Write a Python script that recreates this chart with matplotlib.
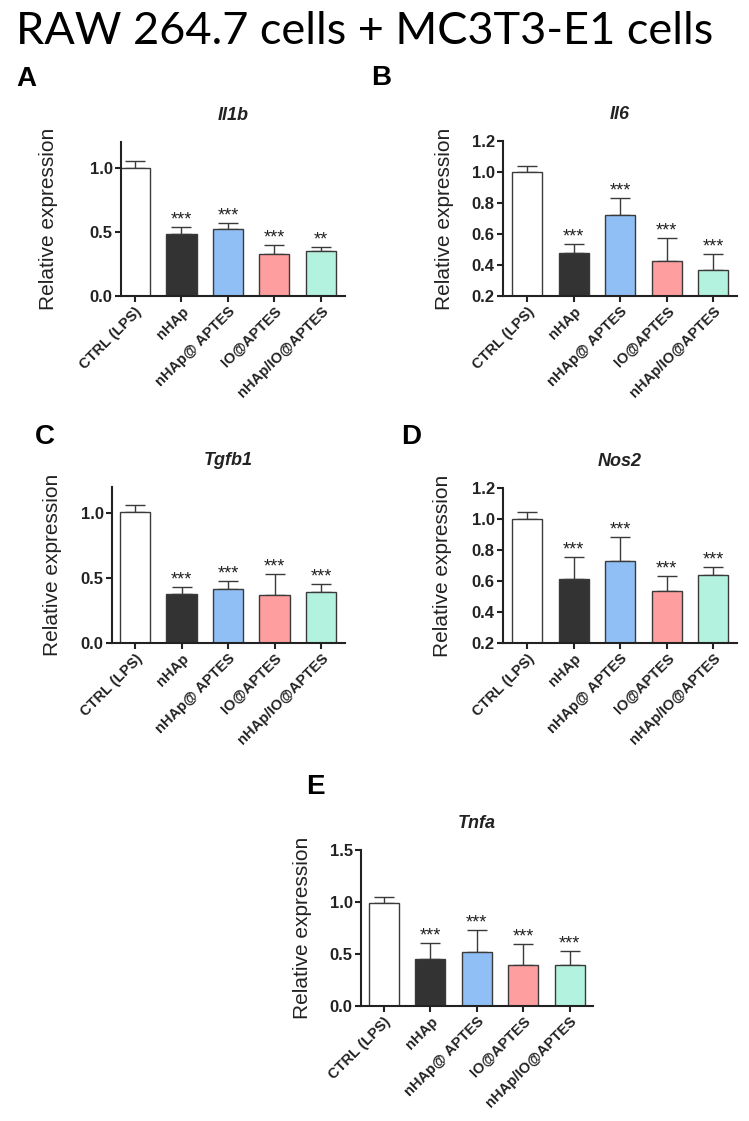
import numpy as np
import matplotlib
matplotlib.use("Agg")
import matplotlib.pyplot as plt

plt.rcParams['font.family'] = ['Liberation Sans', 'DejaVu Sans']

W, H = 749, 1121

groups = ['CTRL (LPS)', 'nHAp', 'nHAp@ APTES', 'IO@APTES', 'nHAp/IO@APTES']
colors = ['#ffffff', '#333333', '#8fbff5', '#ff9e9e', '#b3f2de']

il1b_mean = [1.00, 0.48, 0.52, 0.33, 0.35]
il1b_sd = [0.05, 0.06, 0.05, 0.07, 0.03]
il1b_sig = ['', '***', '***', '***', '**']

il6_mean = [1.00, 0.475, 0.72, 0.425, 0.365]
il6_sd = [0.04, 0.06, 0.11, 0.15, 0.105]
il6_sig = ['', '***', '***', '***', '***']

tgfb1_mean = [1.005, 0.38, 0.415, 0.37, 0.395]
tgfb1_sd = [0.057, 0.052, 0.06, 0.16, 0.06]
tgfb1_sig = ['', '***', '***', '***', '***']

nos2_mean = [1.00, 0.615, 0.73, 0.535, 0.64]
nos2_sd = [0.048, 0.142, 0.155, 0.10, 0.053]
nos2_sig = ['', '***', '***', '***', '***']

tnfa_mean = [0.995, 0.45, 0.52, 0.39, 0.39]
tnfa_sd = [0.056, 0.16, 0.21, 0.21, 0.135]
tnfa_sig = ['', '***', '***', '***', '***']


def px_axes(fig, left, top, right, bottom):
    return fig.add_axes([left / W, 1 - bottom / H,
                         (right - left) / W, (bottom - top) / H])


def panel(fig, box, letter, letter_xy, gene, mean, sd, sig,
          ylim, yticks, xlim, ylab_x):
    ax = px_axes(fig, *box)
    x = np.arange(len(groups))
    ax.bar(x, mean, width=0.65, color=colors, edgecolor='#3a3a3a',
           linewidth=1.0, zorder=2)
    ax.errorbar(x, mean, yerr=[np.zeros(len(sd)), sd], fmt='none',
                ecolor='#3a3a3a', elinewidth=1.0, capsize=7, capthick=1.0,
                zorder=1)
    for xi, m, s, t in zip(x, mean, sd, sig):
        if t:
            ax.text(xi, m + s - 0.01 * (ylim[1] - ylim[0]), t,
                    ha='center', va='bottom', fontsize=13, color='#222222')
    ax.set_ylim(*ylim)
    ax.set_xlim(*xlim)
    ax.set_yticks(yticks)
    ax.set_yticklabels(['%.1f' % v for v in yticks], fontsize=12,
                       fontweight='bold', color='#222222')
    ax.set_xticks(x)
    ax.set_xticklabels(groups, rotation=45, ha='right',
                       rotation_mode='anchor', fontsize=10.5,
                       fontweight='bold', color='#222222')
    for side in ('top', 'right'):
        ax.spines[side].set_visible(False)
    for side in ('left', 'bottom'):
        ax.spines[side].set_linewidth(1.5)
        ax.spines[side].set_color('#222222')
    ax.tick_params(direction='out', length=4, width=1.5, color='#222222',
                   pad=2)
    ax.set_title(gene, fontsize=13, fontweight='bold', style='italic',
                 color='#222222', pad=16)
    fig.text(ylab_x / W, 1 - (box[1] + box[3]) / 2 / H,
             'Relative expression', rotation=90, ha='center', va='center',
             fontsize=15, color='#222222')
    fig.text(letter_xy[0] / W, 1 - letter_xy[1] / H, letter,
             ha='left', va='center', fontsize=20, fontweight='bold')
    return ax


fig = plt.figure(figsize=(W / 100, H / 100), dpi=100)

fig.text(365 / W, 1 - 32 / H, 'RAW 264.7 cells + MC3T3-E1 cells',
         ha='center', va='center', fontsize=32.5, family='Lato')

panel(fig, (121, 142, 345, 296), 'A', (16, 79), 'Il1b',
      il1b_mean, il1b_sd, il1b_sig, (0, 1.2), [0.0, 0.5, 1.0],
      (-0.30, 4.52), 48)
panel(fig, (503, 141, 737, 296), 'B', (371, 78), 'Il6',
      il6_mean, il6_sd, il6_sig, (0.2, 1.2),
      [0.2, 0.4, 0.6, 0.8, 1.0, 1.2], (-0.52, 4.51), 445)
panel(fig, (112, 487, 345, 643), 'C', (35, 437), 'Tgfb1',
      tgfb1_mean, tgfb1_sd, tgfb1_sig, (0, 1.2), [0.0, 0.5, 1.0],
      (-0.495, 4.515), 53)
panel(fig, (503, 488, 737, 643), 'D', (401, 437), 'Nos2',
      nos2_mean, nos2_sd, nos2_sig, (0.2, 1.2),
      [0.2, 0.4, 0.6, 0.8, 1.0, 1.2], (-0.52, 4.51), 443)
panel(fig, (361, 850, 593, 1006), 'E', (306, 787), 'Tnfa',
      tnfa_mean, tnfa_sd, tnfa_sig, (0, 1.5), [0.0, 0.5, 1.0, 1.5],
      (-0.49, 4.5), 303)

fig.savefig('out.png', dpi=100)
